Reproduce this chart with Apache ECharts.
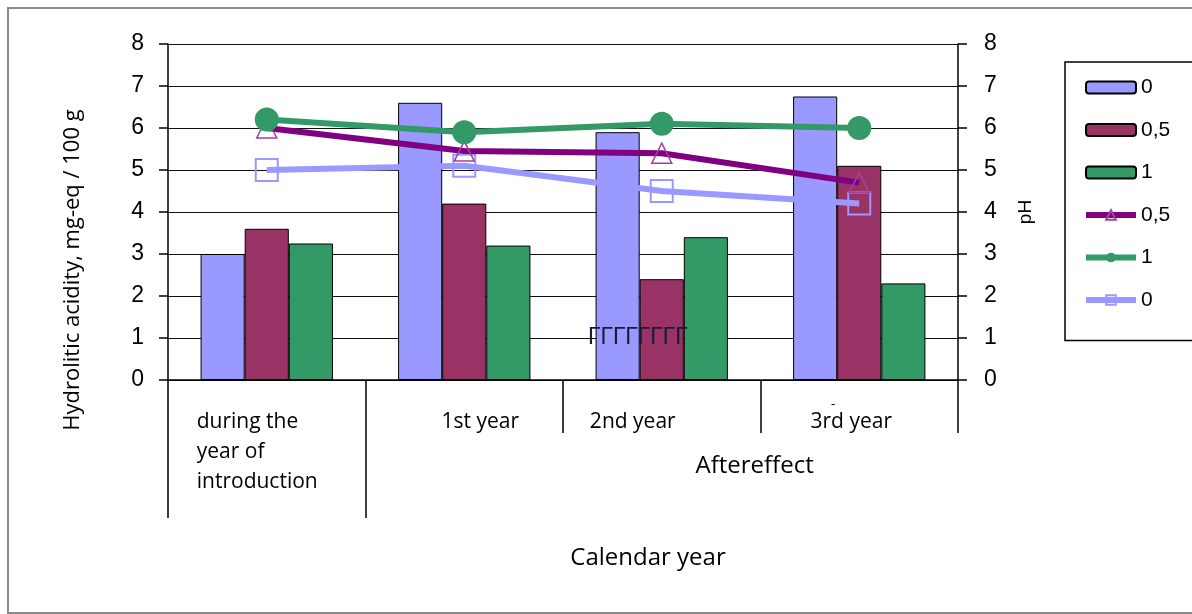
<!DOCTYPE html>
<html>
<head>
<meta charset="utf-8">
<script src="https://cdn.jsdelivr.net/npm/echarts@6/dist/echarts.min.js"></script>
<style>
html,body{margin:0;padding:0;background:#fff;}
#wrap{position:relative;width:1192px;height:614px;overflow:hidden;}
#chart{position:absolute;left:0;top:0;width:1192px;height:614px;}
#frame{position:absolute;left:7px;top:7px;width:1200px;height:603px;border:2px solid #8a8a8a;pointer-events:none;}
</style>
</head>
<body>
<div id="wrap"><div id="chart"></div><div id="frame"></div></div>
<script>
// ---- data ----
const categories = ['during the year of introduction', '1st year', '2nd year', '3rd year'];
const groupLabel = 'Aftereffect';
const xTitle = 'Calendar year';
const yLeftTitle = 'Hydrolitic acidity, mg-eq / 100 g';
const yRightTitle = 'pH';
const yTicks = [0, 1, 2, 3, 4, 5, 6, 7, 8];

const acidity0 = [3.0, 6.6, 5.9, 6.75];
const acidity05 = [3.6, 4.2, 2.4, 5.1];
const acidity1 = [3.25, 3.2, 3.4, 2.3];

const ph05 = [6.0, 5.45, 5.4, 4.7];
const ph1 = [6.2, 5.9, 6.1, 6.0];
const ph0 = [5.0, 5.1, 4.5, 4.2];

const C_BLUE = '#9999FF', C_MAROON = '#993366', C_GREEN = '#339966', C_PURPLE = '#800080';
const CAT_FONT = 'Open Sans';
const NUM_FONT = 'Liberation Sans';

const chart = echarts.init(document.getElementById('chart'));

const CF = 21;
const catRich = {
  a: { width: 140, align: 'left', lineHeight: 30, fontSize: CF, fontFamily: CAT_FONT, color: '#000' },
  b: { padding: [0, 0, 0, 32], lineHeight: 30, fontSize: CF, fontFamily: CAT_FONT, color: '#000' },
  c: { padding: [0, 58, 0, 0], lineHeight: 30, fontSize: CF, fontFamily: CAT_FONT, color: '#000' },
  d: { padding: [0, 16, 0, 0], lineHeight: 30, fontSize: CF, fontFamily: CAT_FONT, color: '#000' }
};

const yAxisCommon = {
  type: 'value', min: yTicks[0], max: yTicks[yTicks.length - 1], interval: 1,
  axisLine: { show: true, lineStyle: { color: '#000', width: 1.5 } },
  axisTick: { show: true, inside: false, length: 9, lineStyle: { color: '#000', width: 1.5 } },
  axisLabel: { fontFamily: NUM_FONT, fontSize: 23, color: '#000' }
};

const option = {
  animation: false,
  backgroundColor: '#fff',
  grid: { left: 168, right: 234, top: 44, bottom: 234, containLabel: false },
  legend: {
    orient: 'vertical', left: 1065, top: 62,
    padding: [15, 90, 30, 18],
    borderColor: '#000', borderWidth: 1.5,
    itemWidth: 50, itemHeight: 12, itemGap: 21.5,
    lineStyle: { width: 6 },
    textStyle: { fontFamily: NUM_FONT, fontSize: 21, color: '#000' },
    formatter: n => n.trim(),
    data: ['0', '0,5', '1', '0,5 ', '1 ', '0 ']
  },
  xAxis: [
    {
      type: 'category', data: categories, position: 'bottom',
      axisLine: { show: true, lineStyle: { color: '#000', width: 1.5 } },
      axisTick: { show: true, interval: 0, length: 53, lineStyle: { color: '#000', width: 1.5 } },
      axisLabel: {
        interval: 0, margin: 27, rich: catRich,
        formatter: (v, i) => {
          if (i === 0) return '{a|during the}\n{a|year of}\n{a|introduction}';
          const k = ['a', 'b', 'c', 'd'][i];
          return '{' + k + '|' + v + '}';
        }
      }
    },
    {
      type: 'value', min: 0, max: 4, position: 'bottom',
      axisLine: { show: false }, splitLine: { show: false },
      axisTick: { show: true, customValues: [0, 1], length: 138, lineStyle: { color: '#000', width: 1.5 } },
      axisLabel: { customValues: [2.97], formatter: () => groupLabel, margin: 74,
        fontFamily: CAT_FONT, fontSize: 24, color: '#000' },
      name: xTitle, nameLocation: 'middle', nameGap: 166,
      nameTextStyle: { fontFamily: CAT_FONT, fontSize: 24, color: '#000', padding: [0, 0, 0, 170] }
    }
  ],
  yAxis: [
    Object.assign({}, yAxisCommon, {
      position: 'left',
      axisLabel: Object.assign({}, yAxisCommon.axisLabel, { margin: 24 }),
      splitLine: { show: true, lineStyle: { color: '#111', width: 1.2 } },
      name: yLeftTitle, nameLocation: 'middle', nameGap: 84, nameRotate: 90,
      nameTextStyle: { fontFamily: CAT_FONT, fontSize: 22, color: '#000', padding: [0, 116, 0, 0] }
    }),
    Object.assign({}, yAxisCommon, {
      position: 'right',
      axisLabel: Object.assign({}, yAxisCommon.axisLabel, { margin: 26 }),
      splitLine: { show: false },
      name: yRightTitle, nameLocation: 'middle', nameGap: 58, nameRotate: 90,
      nameTextStyle: { fontFamily: NUM_FONT, fontSize: 19, color: '#000', padding: [0, 0, 0, 0] }
    })
  ],
  series: [
    { name: '0', type: 'bar', data: acidity0, barGap: '0%', barCategoryGap: '33%',
      itemStyle: { color: C_BLUE, borderColor: '#000', borderWidth: 1 } },
    { name: '0,5', type: 'bar', data: acidity05, barGap: '0%', barCategoryGap: '33%',
      itemStyle: { color: C_MAROON, borderColor: '#000', borderWidth: 1 } },
    { name: '1', type: 'bar', data: acidity1, barGap: '0%', barCategoryGap: '33%',
      itemStyle: { color: C_GREEN, borderColor: '#000', borderWidth: 1 } },
    { name: '0,5 ', type: 'line', yAxisIndex: 1, data: ph05, z: 4,
      symbol: 'triangle', symbolSize: 20, showAllSymbol: true,
      lineStyle: { color: C_PURPLE, width: 6 },
      itemStyle: { color: 'rgba(255,255,255,0)', borderColor: '#a040a0', borderWidth: 1.5 } },
    { name: '1 ', type: 'line', yAxisIndex: 1, data: ph1, z: 5,
      symbol: 'circle', symbolSize: 24,
      lineStyle: { color: C_GREEN, width: 6 },
      itemStyle: { color: C_GREEN, borderColor: C_GREEN, borderWidth: 0 } },
    { name: '0 ', type: 'line', yAxisIndex: 1, data: ph0, z: 3,
      symbol: 'rect', symbolSize: 22,
      lineStyle: { color: C_BLUE, width: 6 },
      itemStyle: { color: 'rgba(255,255,255,0)', borderColor: C_BLUE, borderWidth: 2 } }
  ],
  graphic: [
    { type: 'text', left: 588, top: 326, z: 100,
      style: { text: 'ГГГГГГГГ', fontFamily: NUM_FONT, fontSize: 23, fill: '#1a1a3a' } },
    { type: 'text', left: 831, top: 398, z: 100,
      style: { text: '-', fontFamily: NUM_FONT, fontSize: 13, fill: '#000' } }
  ]
};
chart.setOption(option);
</script>
</body>
</html>
